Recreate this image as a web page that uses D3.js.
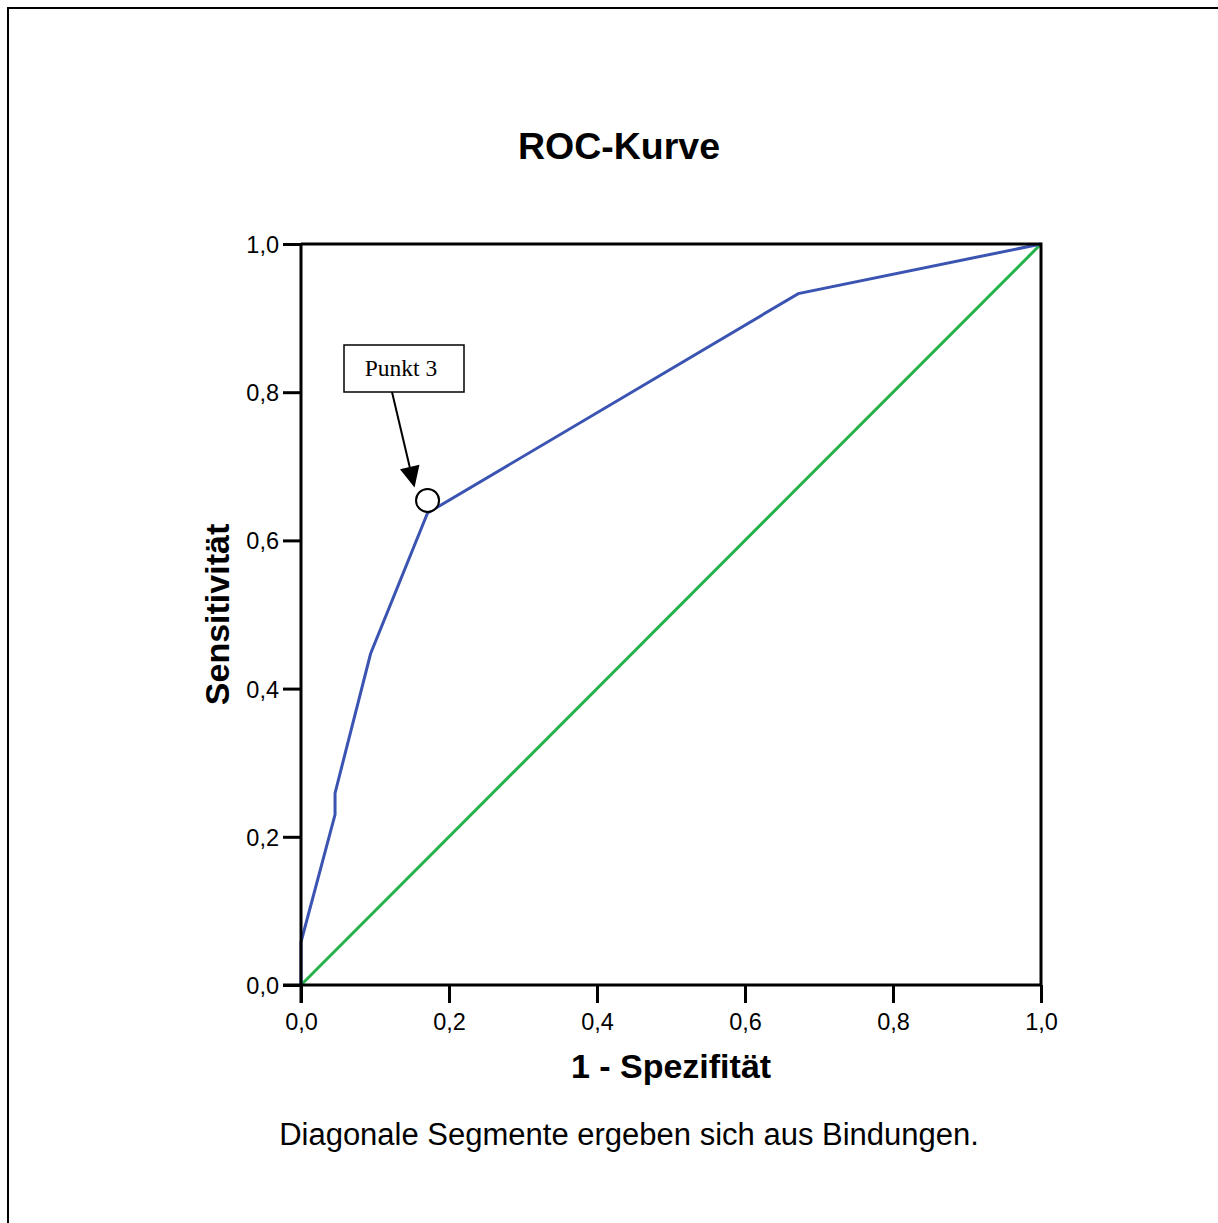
<!DOCTYPE html>
<html>
<head>
<meta charset="utf-8">
<script src="https://cdn.jsdelivr.net/npm/d3@7"></script>
<style>
  html, body { margin: 0; padding: 0; background: #fff; }
  svg { display: block; }
</style>
</head>
<body>
<svg id="chart" width="1218" height="1223"></svg>
<script>
// ROC curve: 1 - specificity (x) vs. sensitivity (y)
const fpr = [0, 0, 0.046, 0.046, 0.094, 0.171, 0.672, 1];
const tpr = [0, 0.058, 0.23, 0.259, 0.447, 0.637, 0.933, 1];
// reference diagonal
const diagX = [0, 1];
const diagY = [0, 1];
// highlighted cut-off point
const markLabel = "Punkt 3";
const markX = [0.171];
const markY = [0.654];
// axis ticks
const tickValues = [0, 0.2, 0.4, 0.6, 0.8, 1.0];
const tickLabels = ["0,0", "0,2", "0,4", "0,6", "0,8", "1,0"];

const svg = d3.select("#chart");
const font = "'Liberation Sans', Arial, sans-serif";

// outer frame
svg.append("path")
  .attr("d", "M8,1230 L8,8 L1230,8")
  .attr("fill", "none").attr("stroke", "#000").attr("stroke-width", 2);

const x = d3.scaleLinear().domain([0, 1]).range([301, 1041]);
const y = d3.scaleLinear().domain([0, 1]).range([985, 244]);

// title
svg.append("text").attr("x", 619).attr("y", 159)
  .attr("text-anchor", "middle").attr("font-family", font)
  .attr("font-weight", "bold").attr("font-size", 37.5).text("ROC-Kurve");

// diagonal reference line
const line = d3.line().x(d => x(d[0])).y(d => y(d[1]));
svg.append("path")
  .datum(d3.zip(diagX, diagY))
  .attr("d", line).attr("fill", "none")
  .attr("stroke", "#26b24a").attr("stroke-width", 3);

// ROC curve
svg.append("path")
  .datum(d3.zip(fpr, tpr))
  .attr("d", line).attr("fill", "none")
  .attr("stroke", "#3b54b2").attr("stroke-width", 3)
  .attr("stroke-linejoin", "miter");

// frame of the plot area (top and right)
svg.append("path")
  .attr("d", `M${x(0)},${y(1)} L${x(1)},${y(1)} L${x(1)},${y(0)}`)
  .attr("fill", "none").attr("stroke", "#000").attr("stroke-width", 3);

// axes
const fmt = d => tickLabels[tickValues.indexOf(d)];
const yAxis = svg.append("g").attr("transform", `translate(${x(0)},0)`)
  .call(d3.axisLeft(y).tickValues(tickValues).tickFormat(fmt).tickSize(18).tickPadding(4));
const xAxis = svg.append("g").attr("transform", `translate(0,${y(0)})`)
  .call(d3.axisBottom(x).tickValues(tickValues).tickFormat(fmt).tickSize(18).tickPadding(10));
[xAxis, yAxis].forEach(g => {
  g.select(".domain").attr("stroke", "#000").attr("stroke-width", 3);
  g.selectAll(".tick line").attr("stroke", "#000").attr("stroke-width", 3);
  g.selectAll(".tick text").attr("font-family", font).attr("font-size", 23.5).attr("fill", "#000");
});
yAxis.select(".domain").attr("d", `M0,${y(1)}V${y(0) + 18}`);
xAxis.select(".domain").attr("d", `M${x(0) - 18},0H${x(1)}`);
yAxis.selectAll(".tick text").attr("dy", "0.36em");

// axis titles
svg.append("text").attr("x", 671).attr("y", 1078)
  .attr("text-anchor", "middle").attr("font-family", font)
  .attr("font-weight", "bold").attr("font-size", 34).text("1 - Spezifität");
svg.append("text")
  .attr("transform", `translate(229,${(y(0) + y(1)) / 2}) rotate(-90)`)
  .attr("text-anchor", "middle").attr("font-family", font)
  .attr("font-weight", "bold").attr("font-size", 34).text("Sensitivität");

// footnote
svg.append("text").attr("x", 629).attr("y", 1145)
  .attr("text-anchor", "middle").attr("font-family", font)
  .attr("font-size", 31).text("Diagonale Segmente ergeben sich aus Bindungen.");

// marked point with callout
const cx = x(markX[0]), cy = y(markY[0]);
svg.append("circle").attr("cx", cx).attr("cy", cy).attr("r", 11.5)
  .attr("fill", "#fff").attr("stroke", "#000").attr("stroke-width", 2);

const box = { x0: 344, y0: 345, w: 120, h: 47 };
svg.append("rect").attr("x", box.x0).attr("y", box.y0)
  .attr("width", box.w).attr("height", box.h)
  .attr("fill", "#fff").attr("stroke", "#000").attr("stroke-width", 1.5);
svg.append("text").attr("x", box.x0 + box.w / 2 - 3).attr("y", box.y0 + 31)
  .attr("text-anchor", "middle").attr("font-family", "'Liberation Serif', 'Times New Roman', serif")
  .attr("font-size", 23.5).text(markLabel);

// arrow from callout to point
const sx = 392, sy = box.y0 + box.h;
const tx = cx - 13, ty = cy - 13;
const ang = Math.atan2(ty - sy, tx - sx);
const headLen = 21, headW = 10;
const bx = tx - headLen * Math.cos(ang), by = ty - headLen * Math.sin(ang);
svg.append("line").attr("x1", sx).attr("y1", sy).attr("x2", bx).attr("y2", by)
  .attr("stroke", "#000").attr("stroke-width", 2);
const px = -Math.sin(ang), py = Math.cos(ang);
svg.append("path")
  .attr("d", `M${tx},${ty} L${bx + px * headW},${by + py * headW} L${bx - px * headW},${by - py * headW} Z`)
  .attr("fill", "#000");
</script>
</body>
</html>
